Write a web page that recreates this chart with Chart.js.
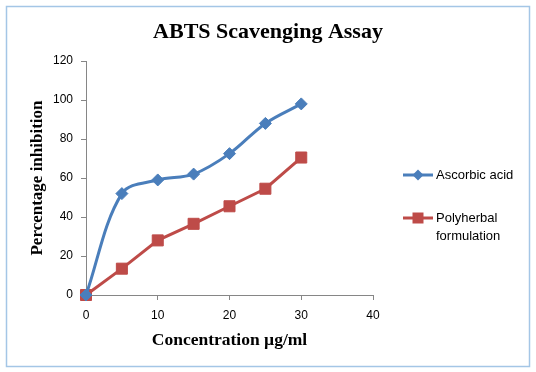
<!DOCTYPE html>
<html>
<head>
<meta charset="utf-8">
<script src="https://cdn.jsdelivr.net/npm/chart.js@4"></script>
<style>
  html, body { margin: 0; padding: 0; background: #fff; }
  #wrap { width: 536px; height: 372px; position: relative; }
</style>
</head>
<body>
<div id="wrap"><canvas id="grafico"></canvas></div>
<script>
// datos
const concentraciones = [0, 5, 10, 15, 20, 25, 30];
const ascorbico = [0, 52, 59, 62, 72.5, 88, 98];
const polyherbal = [0, 13.5, 28, 36.5, 45.5, 54.5, 70.5];
const nombresSeries = ['Ascorbic acid', 'Polyherbal formulation'];
const tituloGrafico = 'ABTS Scavenging Assay';
const tituloX = 'Concentration µg/ml';
const tituloY = 'Percentage inhibition';

const azul = '#4a7ebb';
const rojo = '#be4b48';
const gris = '#868686';

const puntos = (ys) => concentraciones.map((x, i) => ({ x: x, y: ys[i] }));

// titulo, leyenda y marco dibujados a mano
const extras = {
    id: 'extras',
    beforeDraw(chart) {
        const ctx = chart.ctx;
        ctx.save();
        ctx.fillStyle = '#fff';
        ctx.fillRect(0, 0, chart.width, chart.height);
        ctx.strokeStyle = '#a4c6e6';
        ctx.lineWidth = 1.5;
        ctx.strokeRect(6.5, 6.5, 523, 360);
        ctx.restore();
    },
    afterDraw(chart) {
        const ctx = chart.ctx;
        ctx.save();
        ctx.fillStyle = '#000';
        ctx.font = 'bold 22px "Liberation Serif"';
        ctx.textAlign = 'center';
        ctx.textBaseline = 'middle';
        ctx.fillText(tituloGrafico, 268, 32);

        // leyenda
        const posY = [175, 218];
        ctx.font = '13px "Liberation Sans"';
        ctx.textAlign = 'left';
        chart.data.datasets.forEach((ds, i) => {
            const y = posY[i];
            ctx.strokeStyle = ds.borderColor;
            ctx.lineWidth = 3;
            ctx.beginPath();
            ctx.moveTo(403, y);
            ctx.lineTo(433, y);
            ctx.stroke();
            ctx.fillStyle = ds.pointBackgroundColor;
            ctx.beginPath();
            if (ds.pointStyle === 'rect') {
                ctx.rect(418 - 5.5, y - 5.5, 11, 11);
            } else {
                ctx.moveTo(418, y - 5.5);
                ctx.lineTo(423.5, y);
                ctx.lineTo(418, y + 5.5);
                ctx.lineTo(412.5, y);
                ctx.closePath();
            }
            ctx.fill();

            // partir el texto si no cabe
            const palabras = ds.label.split(' ');
            const lineas = [];
            let actual = '';
            palabras.forEach(p => {
                const prueba = actual ? actual + ' ' + p : p;
                if (actual && ctx.measureText(prueba).width > 90) {
                    lineas.push(actual);
                    actual = p;
                } else {
                    actual = prueba;
                }
            });
            lineas.push(actual);
            ctx.fillStyle = '#000';
            lineas.forEach((l, j) => ctx.fillText(l, 436, y + j * 18));
        });
        ctx.restore();
    }
};

new Chart(document.getElementById('grafico'), {
    type: 'line',
    data: {
        datasets: [
            {
                label: nombresSeries[0],
                data: puntos(ascorbico),
                borderColor: azul,
                backgroundColor: azul,
                pointBackgroundColor: azul,
                pointBorderColor: azul,
                borderWidth: 3,
                pointStyle: 'rectRot',
                pointRadius: 6,
                pointBorderWidth: 1,
                tension: 0.35,
                clip: false
            },
            {
                label: nombresSeries[1],
                data: puntos(polyherbal),
                borderColor: rojo,
                backgroundColor: rojo,
                pointBackgroundColor: rojo,
                pointBorderColor: rojo,
                borderWidth: 3,
                pointStyle: 'rect',
                pointRadius: 7.8,
                pointBorderWidth: 1,
                tension: 0,
                clip: false
            }
        ]
    },
    options: {
        responsive: true,
        maintainAspectRatio: false,
        animation: false,
        layout: { padding: { left: 0, right: 163, top: 61, bottom: 0 } },
        plugins: {
            legend: { display: false },
            title: { display: false },
            tooltip: { enabled: false }
        },
        scales: {
            x: {
                type: 'linear',
                min: 0,
                max: 40,
                ticks: { stepSize: 10, color: '#000', padding: 8, font: { family: 'Liberation Sans', size: 12 } },
                grid: { display: true, drawOnChartArea: false, drawTicks: true, tickLength: 5, color: gris },
                border: { color: gris, width: 1 },
                title: { display: true, text: tituloX, color: '#000', padding: { top: 0, bottom: 21.5 }, font: { family: 'Liberation Serif', size: 17.5, weight: 'bold' } },
                afterFit(scale) { scale.height = 77; }
            },
            y: {
                min: 0,
                max: 120,
                ticks: { stepSize: 20, color: '#000', padding: 8, font: { family: 'Liberation Sans', size: 12 } },
                grid: { display: true, drawOnChartArea: false, drawTicks: true, tickLength: 5, color: gris },
                border: { color: gris, width: 1 },
                title: { display: true, text: tituloY, color: '#000', padding: { top: 27, bottom: 0 }, font: { family: 'Liberation Serif', size: 17, weight: 'bold' } },
                afterFit(scale) { scale.width = 86; }
            }
        }
    },
    plugins: [extras]
});
</script>
</body>
</html>
